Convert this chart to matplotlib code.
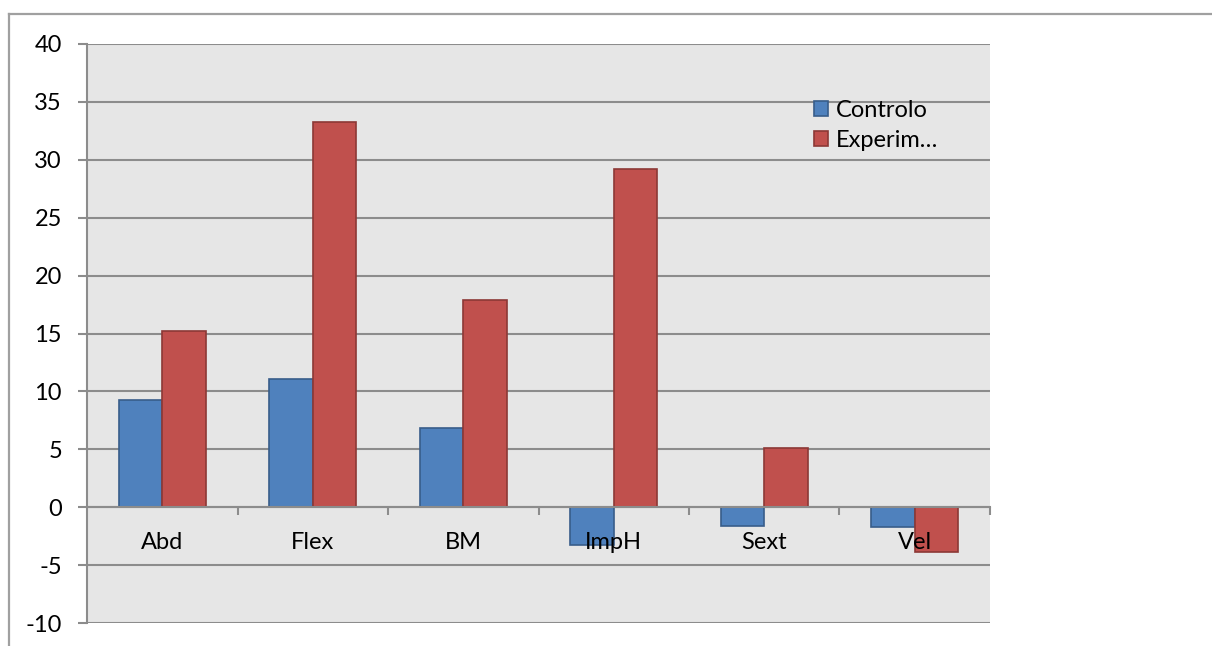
import matplotlib
matplotlib.use("Agg")
import matplotlib.pyplot as plt
import numpy as np
from matplotlib.lines import Line2D

plt.rcParams['font.family'] = ['Lato', 'DejaVu Sans']
plt.rcParams['axes.unicode_minus'] = False

categories = ["Abd", "Flex", "BM", "ImpH", "Sext", "Vel"]
controlo = [9.3, 11.1, 6.8, -3.3, -1.6, -1.7]
experim = [15.2, 33.3, 17.9, 29.2, 5.1, -3.9]
series_names = ["Controlo", "Experim…"]
y_ticks = [-10, -5, 0, 5, 10, 15, 20, 25, 30, 35, 40]

blue, blue_edge = "#4f81bd", "#385d8a"
red, red_edge = "#c0504d", "#8c3836"
grid_gray = "#8c8c8c"
fs = 17

W, H = 1212, 646
fig = plt.figure(figsize=(W / 100, H / 100), dpi=100)
fig.patch.set_facecolor("white")

# chart frame (top and left edges)
fig.add_artist(Line2D([9 / W, 1.0], [1 - 14 / H, 1 - 14 / H], color="#a0a0a0", lw=1.6))
fig.add_artist(Line2D([9 / W, 9 / W], [0.0, 1 - 14 / H], color="#a0a0a0", lw=1.6))

ax = fig.add_axes([87 / W, 1 - 623 / H, (990 - 87) / W, (623 - 44) / H])
ax.set_facecolor("#e6e6e6")

x = np.arange(len(categories))
w = 0.29
ax.bar(x - w / 2, controlo, w, color=blue, edgecolor=blue_edge, linewidth=1.2,
       label=series_names[0], zorder=1)
ax.bar(x + w / 2, experim, w, color=red, edgecolor=red_edge, linewidth=1.2,
       label=series_names[1], zorder=1)

ax.set_xlim(-0.5, len(categories) - 0.5)
ax.set_ylim(-10, 40)
ax.set_yticks(y_ticks)
ax.yaxis.grid(True, color=grid_gray, lw=1.5)
ax.set_axisbelow(True)
ax.xaxis.set_zorder(2.5)

for s in ["top", "right"]:
    ax.spines[s].set_visible(False)
ax.spines["left"].set_color(grid_gray)
ax.spines["left"].set_linewidth(1.5)
ax.spines["bottom"].set_position(("data", 0))
ax.spines["bottom"].set_color(grid_gray)
ax.spines["bottom"].set_linewidth(1.5)

ax.tick_params(axis="y", length=6.5, width=1.5, color=grid_gray, pad=11.5,
               labelsize=fs, labelcolor="black")
ax.set_xticks(np.arange(len(categories)) + 0.5)
ax.set_xticklabels([])
ax.set_xticks(x, minor=True)
ax.set_xticklabels(categories, minor=True)
ax.tick_params(axis="x", which="major", length=6, width=1.5, color=grid_gray)
ax.tick_params(axis="x", which="minor", length=0, pad=17.5, labelsize=fs)

leg = ax.legend(loc="upper left", bbox_to_anchor=(0.805, 0.903), frameon=False,
                fontsize=fs, handlelength=0.6, handleheight=0.6,
                handletextpad=0.35, labelspacing=0.38, borderpad=0,
                borderaxespad=0)

fig.savefig("out.png", dpi=100)
